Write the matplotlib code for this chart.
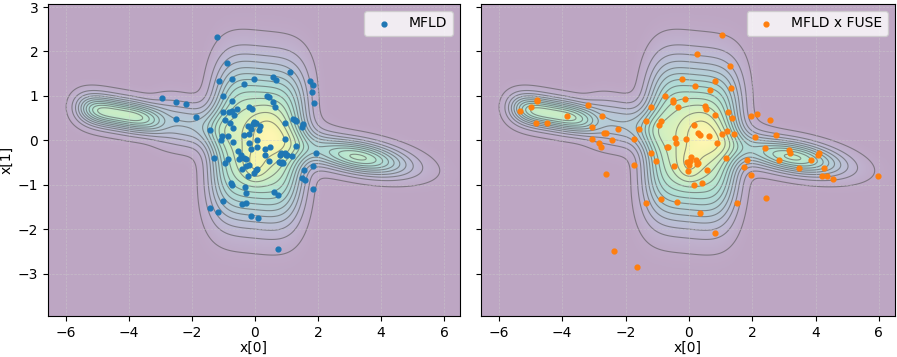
import numpy as np
import matplotlib
matplotlib.use("Agg")
import matplotlib.pyplot as plt

# ---- density model: generalized Gaussian components
# amplitude, centre, scale along major axis, scale along minor axis, angle (deg),
# exponent along major axis, exponent along minor axis
mix_amp = [0.85, 0.15, 0.13, 0.35, 0.80, 0.18, 0.75]
mix_mu = [(0.1, -0.04), (0.35, 0.15), (0.0, -0.6), (-2.0, 0.34), (-4.3, 0.59), (1.6, -0.1), (3.3, -0.38)]
mix_sd_major = [1.36, 0.45, 0.28, 1.0, 1.08, 0.6, 1.05]
mix_sd_minor = [1.2, 0.45, 0.28, 0.33, 0.23, 0.33, 0.24]
mix_angle = [86, 0, 0, -7, -7, -7, -7]
mix_power_major = [3, 2, 2, 4, 4, 2, 2]
mix_power_minor = [4, 2, 2, 2, 2, 2, 2]

# ---- samples
mfld_x = [-1.21, -0.89, -1.15, -0.73, -0.34, -0.02, 0.56, 0.66, 1.12, 1.75, 1.83, 1.80, 1.88,
          -2.94, -2.52, -2.18, -2.52, -1.87, -1.01, -0.74, -1.0, -0.81, -0.74, -0.58, -0.66,
          -0.94, -0.78, -0.71, -1.42, -0.18, -0.08, 0.37, 0.45, 0.56, 0.63, -0.02, 0.03, -0.05,
          0.17, 0.14, -0.21, -0.11, -0.34, -1.06, -0.87, -1.09, -0.2, -0.18, -0.71, 0.06, 0.05,
          0.33, 0.47, 0.96, 0.95, 1.30, 0.94, 1.17, 0.81, 0.33, -0.13, -0.55, -0.43, -0.36, -0.30,
          -0.52, -0.2, 0.45, 0.75, 0.87, 1.01, -0.87, -1.29, -0.96, -0.41, -0.27, -0.22, 0.03,
          0.08, -0.03, -0.76, -0.73, 1.56, 1.85, 1.49, 1.58, 1.93, 1.83, 0.59, 0.74, -0.31, -0.28,
          -1.02, -0.28, -0.41, -1.44, -1.18, -0.11, 0.11, 0.74, 1.22, 1.30, 1.51, 1.48, 1.26,
          0.82, 0.89, 0.82, 1.0]
mfld_y = [2.32, 1.73, 1.34, 1.38, 1.27, 1.37, 1.42, 1.36, 1.53, 1.34, 1.24, 1.09, 0.83,
          0.96, 0.86, 0.82, 0.48, 0.52, 1.0, 0.88, 0.63, 0.64, 0.67, 0.70, 0.56,
          0.46, 0.38, 0.28, 0.24, 0.76, 0.70, 1.0, 0.98, 0.86, 0.76, 0.42, 0.40, 0.37,
          0.32, 0.23, 0.32, 0.25, 0.11, 0.10, 0.10, 0.01, 0.14, -0.05, -0.04, 0.01, -0.16,
          -0.2, -0.14, 0.02, 0.38, -0.13, -0.28, -0.35, -0.32, -0.33, -0.2, -0.24, -0.32, -0.39, -0.42,
          -0.43, -0.55, -0.46, -0.48, -0.48, -0.33, -0.43, -0.39, -0.5, -0.65, -0.58, -0.81, -0.67,
          -0.65, -0.74, -0.97, -1.01, -0.67, -0.58, -0.85, -0.89, -0.29, -1.09, -1.16, -1.23, -1.05, -1.18,
          -1.36, -1.40, -1.44, -1.52, -1.62, -1.70, -1.75, -2.45, 0.49, 0.44, 0.37, 0.31, 0.46,
          -0.28, -0.5, -0.5, -0.33]

fuse_x = [1.05, 0.26, 1.29, -0.21, 0.18, 0.81, 0.66, 1.32, -0.74, -0.49, -0.49, -0.13, -0.34,
          0.51, 0.55, -1.19, 1.24, 0.81, 1.37, 1.95, 2.16, 2.56, -0.89, -0.93, -1.36, -1.58,
          -1.73, -2.23, 0.16, 0.29, 0.35, 0.63, 1.05, 1.19, 1.42, 0.89, -0.09, -0.45, -0.40,
          -0.68, -0.66, -1.19, -1.03, -1.73, 1.16, 0.08, -0.05, 0.0, 0.03, 0.24, 0.28, 0.26,
          -0.47, -0.02, 0.57, 0.16, 0.41, -0.37, -0.89, -1.35, 0.35, 0.81, 1.53, 2.45, -2.63,
          -2.37, -1.63, 1.82, 1.74, 1.95, 2.08, 2.75, 2.39, 2.85, 3.16, 3.18, 3.48, 3.87, 4.07,
          4.11, 4.28, 4.21, 4.35, 4.55, 5.96, -5.32, -4.99, -4.81, -4.79, -4.82, -4.47, -3.84,
          -3.17, -2.74, -3.05, -3.05, -2.68, -2.62, -2.84, -2.77, -2.44]
fuse_y = [2.37, 1.94, 1.67, 1.37, 1.23, 1.34, 1.13, 1.17, 1.0, 0.91, 0.86, 0.92, 0.74,
          0.77, 0.70, 0.74, 0.64, 0.56, 0.50, 0.55, 0.60, 0.45, 0.44, 0.35, 0.43, 0.26,
          0.04, 0.25, 0.35, 0.17, 0.13, 0.10, 0.14, 0.20, 0.14, -0.05, 0.02, 0.06, -0.07,
          -0.14, -0.16, -0.28, -0.46, -0.56, -0.39, -0.38, -0.49, -0.56, -0.47, -0.45, -0.50, -0.53,
          -0.57, -0.68, -0.67, -1.0, -0.97, -1.38, -1.33, -1.40, -1.63, -2.08, -1.40, -1.30, -0.75,
          -2.49, -2.84, -0.44, -0.59, -0.78, 0.07, 0.11, -0.18, -0.44, -0.22, -0.29, -0.62, -0.45, -0.32,
          -0.28, -0.62, -0.80, -0.80, -0.86, -0.80, 0.65, 0.76, 0.89, 0.91, 0.40, 0.40, 0.54,
          0.79, 0.54, 0.29, 0.02, 0.17, 0.16, -0.05, -0.14, 0.01]

xlim = (-6.57, 6.5)
ylim = (-3.95, 3.07)


def density(X, Y):
    Z = np.zeros_like(X)
    for amp, mu, a, b, ang, p, q in zip(mix_amp, mix_mu, mix_sd_major, mix_sd_minor,
                                        mix_angle, mix_power_major, mix_power_minor):
        t = np.deg2rad(ang)
        dx, dy = X - mu[0], Y - mu[1]
        u = np.cos(t) * dx + np.sin(t) * dy
        v = -np.sin(t) * dx + np.cos(t) * dy
        Z += amp * np.exp(-0.5 * (np.abs(u / a) ** p + np.abs(v / b) ** q))
    return Z


gx = np.linspace(xlim[0], xlim[1], 500)
gy = np.linspace(ylim[0], ylim[1], 400)
GX, GY = np.meshgrid(gx, gy)
Z = density(GX, GY)
levels = np.linspace(Z.max() * 0.035, Z.max() * 0.93, 13)

plt.rcParams["font.size"] = 10
fig = plt.figure(figsize=(8.97, 3.57), dpi=100)
ax1 = fig.add_axes([0.0535, 0.115, 0.459, 0.874])
ax2 = fig.add_axes([0.536, 0.115, 0.4615, 0.874], sharey=ax1)

for ax, xs, ys, col, lab in [(ax1, mfld_x, mfld_y, "#1f77b4", "MFLD"),
                             (ax2, fuse_x, fuse_y, "#ff7f0e", "MFLD x FUSE")]:
    ax.imshow(Z, extent=[xlim[0], xlim[1], ylim[0], ylim[1]], origin="lower",
              cmap="viridis", alpha=0.35, aspect="auto", interpolation="bilinear", zorder=0)
    ax.contour(GX, GY, Z, levels=levels, colors="#555555", linewidths=0.8, alpha=0.6, zorder=1)
    ax.scatter(xs, ys, s=12, color=col, label=lab, zorder=3)
    ax.set_xlim(xlim)
    ax.set_ylim(ylim)
    ax.grid(True, color="#cccccc", linestyle="--", linewidth=0.5, alpha=0.6)
    ax.set_xticks([-6, -4, -2, 0, 2, 4, 6])
    ax.set_yticks([-3, -2, -1, 0, 1, 2, 3])
    ax.tick_params(labelsize=10)
    ax.set_xlabel("x[0]", fontsize=10, labelpad=1)
    ax.legend(loc="upper right", fontsize=10)

ax1.set_ylabel("x[1]", fontsize=10)
ax1.yaxis.set_label_coords(-0.085, 0.5)
plt.setp(ax2.get_yticklabels(), visible=False)

fig.savefig("out.png", dpi=100)
